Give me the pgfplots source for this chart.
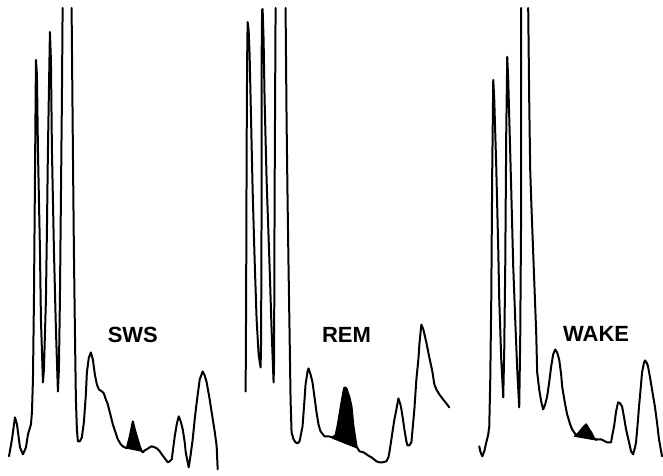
\documentclass[border=0pt]{standalone}
\usepackage{pgfplots}
\pgfplotsset{compat=1.18}
\usepackage{fontspec}
\setmainfont{Liberation Sans}
\begin{document}
\begin{tikzpicture}
\begin{axis}[
  width=663pt, height=476pt, scale only axis,
  xmin=0, xmax=663, ymin=0, ymax=476, y dir=reverse,
  axis lines=none, clip=false,
  trace/.style={black, solid, line width=2pt, line join=round, line cap=round, mark=none},
  blob/.style={black, solid, fill=black, line width=0.8pt, line join=round, mark=none},
]
\addplot[draw=none, mark=none] coordinates {(0,0) (663,476)};
% ---------- SWS ----------
\addplot[trace] coordinates {(9,457) (12,440) (15,418) (17,425) (20,448) (23,455) (26,448) (28,435) (31,425) (32,413) (33,380) (34,300) (35,180) (36,60) (37,75) (38,150) (40,250) (41,320) (43,383) (44,370) (46,300) (47,230) (48,150) (50,32) (51,60) (52,150) (54,250) (56,330) (58,392) (59,370) (60,300) (61,200) (62,100) (62.7,8)};
\addplot[trace] coordinates {(71.7,8) (73,150) (74,250) (75,330) (76,400) (77,430) (78,442) (80,442) (82,438) (84,423) (86,395) (87,373) (89,358) (91,353) (93,360) (95,375) (97,385) (99,390) (102,392) (104,394) (106,400) (108,405) (110,413) (113,425) (116,434) (118,440) (121,445) (123,447) (127,449) (130,437) (133,422) (135,430) (137,437) (140,447) (142,452) (143,453) (145,451) (147,450) (150,448) (152,447) (155,448) (157,449) (160,452) (162,455) (165,459) (168,463) (170,462) (172,460) (175,437) (177,425) (179,417) (181,422) (183,430) (185,443) (186,453) (189,468) (191,455) (193,440) (195,420) (197,403) (200,380) (203,372) (205,376) (207,383) (210,400) (212,413) (215,432) (217,447) (218,470)};
\addplot[blob] coordinates {(127,449) (130,437) (133,422) (135,430) (137,437) (140,447) (142,452)} --cycle;
% ---------- REM ----------
\addplot[trace] coordinates {(246,392) (246.5,300) (247,150) (247.5,60) (248,22) (249,30) (250,55) (251,100) (253,190) (255,260) (257,320) (259,355) (261,368) (261.5,340) (262,200) (262,60) (262.5,10) (263,9) (264,40) (265,100) (267,180) (270,267) (272,330) (274,383) (274.5,360) (275,200) (276,8)};
\addplot[trace] coordinates {(286,8) (287,120) (288,200) (289,270) (290,333) (291,400) (292,433) (294,440) (296,443) (298,444) (300,442) (303,427) (305,400) (306,385) (308,372) (309,369) (311,375) (313,383) (315,398) (317,413) (319,425) (321,432) (325,437) (329,437) (333,438) (336,436) (338,427) (340,415) (342,403) (344,392) (345,388) (347,389) (348,392) (350,398) (352,407) (354,427) (356,440) (357,447) (360,452) (364,453) (367,455) (370,457) (372,458) (377,462) (380,463) (383,463) (387,462) (389,458) (390,453) (392,440) (393,433) (395,420) (397,410) (399,399) (401,405) (402,410) (404,423) (405,430) (407,442) (408,446) (410,446) (412,443) (413,432) (415,410) (416,395) (417,380) (419,360) (420,345) (422,325) (424,330) (427,343) (430,358) (433,372) (435,385) (437,390) (440,395) (443,399) (447,404) (450,408)};
\addplot[blob] coordinates {(333,439) (336,436) (338,427) (340,415) (342,403) (344,392) (345,388) (347,389) (348,392) (350,398) (352,407) (354,427) (356,440) (358,449)} --cycle;
% ---------- WAKE ----------
\addplot[trace] coordinates {(480,447) (481,452) (483,457) (485,452) (487,443) (489,435) (490,427) (491,380) (492,300) (493,167) (494,80) (495,100) (497,167) (499,250) (500,300) (502,360) (504,398) (505,350) (506,267) (507,133) (508,57) (509,80) (510,117) (512,190) (514,267) (516,320) (518,370) (520,408) (521,340) (522,200) (522,8)};
\addplot[trace] coordinates {(529,8) (530,100) (531,170) (532,200) (535,280) (537,333) (538,373) (540,390) (542,402) (544,410) (546,405) (548,397) (550,383) (552,367) (554,355) (556,350) (558,353) (560,360) (562,375) (563,387) (566,405) (568,415) (571,425) (573,430) (577,436) (580,433) (584,428) (587,425) (590,430) (592,433) (595,439) (597,440) (602,440) (606,442) (608,443) (612,443) (613,437) (615,427) (617,412) (619,403) (621,404) (623,407) (625,418) (627,430) (630,443) (632,452) (634,455) (636,448) (637,443) (639,420) (640,407) (642,385) (643,373) (645,363) (646,361) (648,364) (649,367) (651,378) (653,390) (656,408) (658,423) (660,440) (663,457)};
\addplot[blob] coordinates {(575,437) (580,433) (584,428) (587,425) (590,430) (592,433) (595,439) (598,441)} --cycle;
% ---------- labels ----------
\node[font=\fontsize{22}{25}\selectfont\bfseries] at (axis cs:133,335) {SWS};
\node[font=\fontsize{22}{25}\selectfont\bfseries] at (axis cs:347,335) {REM};
\node[font=\fontsize{22}{25}\selectfont\bfseries] at (axis cs:597,334) {WAKE};
\end{axis}
\end{tikzpicture}
\end{document}
